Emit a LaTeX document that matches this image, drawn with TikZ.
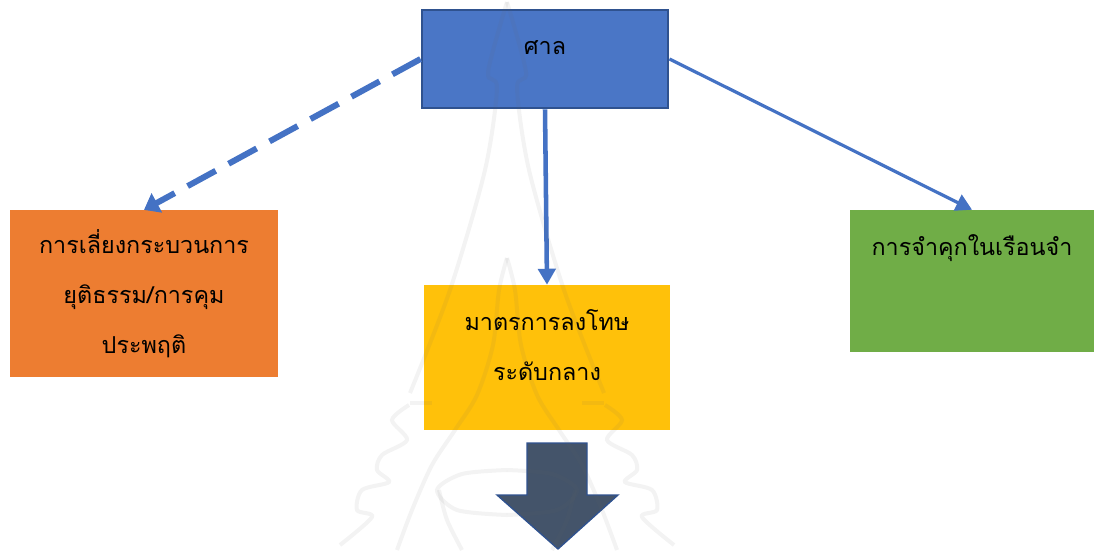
\documentclass[tikz,border=0pt]{standalone}
\usepackage{fontspec}
\newfontfamily\thaifont[Script=Thai]{Loma}
\usetikzlibrary{arrows.meta}
\definecolor{courtblue}{HTML}{4A76C6}
\definecolor{courtline}{HTML}{2F528F}
\definecolor{arrowblue}{HTML}{4472C4}
\definecolor{avoidorange}{HTML}{ED7D31}
\definecolor{midyellow}{HTML}{FFC10A}
\definecolor{jailgreen}{HTML}{70AD47}
\definecolor{downslate}{HTML}{44546A}
\tikzset{x=0.75pt,y=-0.75pt,
  box/.style={minimum width=#1,inner sep=0pt,align=center,text=black,
    font=\thaifont\fontsize{17.5pt}{37.5pt}\selectfont},
  link/.style={draw=arrowblue,line width=2.4pt,-{Triangle[length=12pt,width=13pt]}},
  crest/.style={draw=black!60,line width=3pt,opacity=.08,smooth}}
\begin{document}
\begin{tikzpicture}
\useasboundingbox (0,0) rectangle (1094,550);
\node[box=184.5pt,minimum height=73.5pt,fill=courtblue,draw=courtline,line width=2.2pt,text depth=17pt] (court) at (545,59) {ศาล};
\node[box=201pt,minimum height=125pt,fill=avoidorange] (avoid) at (144,293.5) {การเลี่ยงกระบวนการ\\ยุติธรรม/การคุม\\ประพฤติ};
\node[box=184.5pt,minimum height=108.75pt,fill=midyellow,text depth=19pt] (mid) at (547,357.5) {มาตรการลงโทษ\\ระดับกลาง};
\node[box=183pt,minimum height=106.5pt,fill=jailgreen,text depth=54pt] (jail) at (972,281) {การจำคุกในเรือนจำ};
% links
\draw[link,line width=4.5pt,dash pattern=on 24pt off 11pt,-{Triangle[length=11pt,width=16pt]}] (court.west) -- (avoid.north);
\draw[link,line width=3.4pt] (court.south) -- (mid.north);
\draw[link] (court.east) -- (jail.north);
% down arrow
\draw[fill=downslate,draw=courtline,line width=1pt] (527,443) -- (587,443) -- (587,495) -- (618,495) -- (558,549) -- (497,495) -- (527,495) -- cycle;
% crest, faint, over everything
\foreach \s in {1,-1}{
\begin{scope}[shift={(507,0)},xscale=\s]
\draw[crest] plot coordinates {(0,2) (-19,72) (-10,88) (-22,170) (-57,290) (-97,393)};
\draw[crest] plot coordinates {(0,258) (-8,290) (-14,345) (-30,395) (-52,430) (-75,465) (-95,510) (-110,550)};
\draw[crest] plot coordinates {(-98,405) (-115,420) (-100,440) (-125,455) (-130,470) (-118,482) (-145,490) (-150,510) (-135,517) (-167,545)};
\draw[crest] (-97,403) -- (-75,403);
\draw[crest] plot coordinates {(0,470) (-45,474) (-70,490) (-50,510) (0,515)};
\draw[crest] plot coordinates {(-68,490) (-60,520) (-45,550)};
\end{scope}}
\end{tikzpicture}
\end{document}
